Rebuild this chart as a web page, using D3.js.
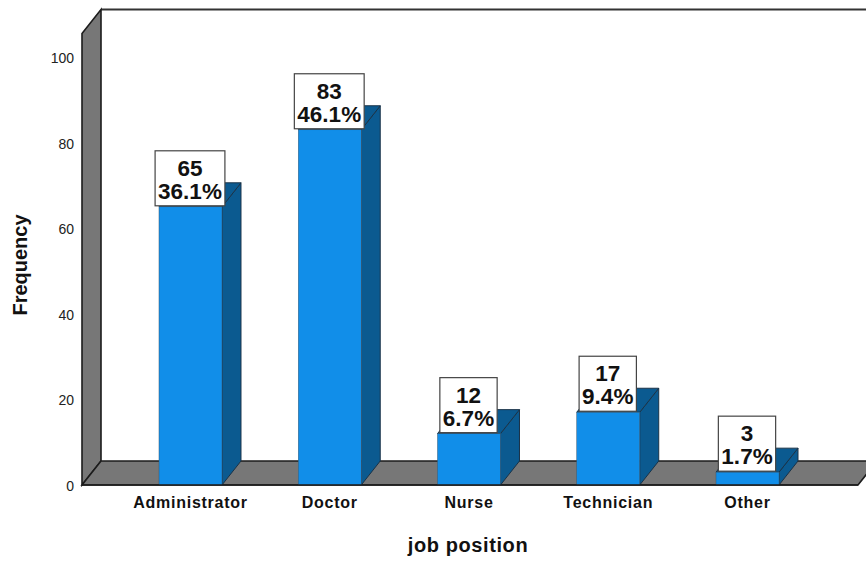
<!DOCTYPE html>
<html>
<head>
<meta charset="utf-8">
<script src="https://cdn.jsdelivr.net/npm/d3@7"></script>
<style>
  html, body { margin: 0; padding: 0; background: #fff; }
  svg { display: block; font-family: "Liberation Sans", Arial, sans-serif; }
  .axis text { fill: #222; font-size: 14px; }
  .x-axis text { font-weight: bold; font-size: 16px; letter-spacing: 0.75px; fill: #111; }
</style>
</head>
<body>
<svg id="chart"></svg>
<script>
const categories = ["Administrator", "Doctor", "Nurse", "Technician", "Other"];
const counts = [65, 83, 12, 17, 3];
const percents = ["36.1%", "46.1%", "6.7%", "9.4%", "1.7%"];
const yTicks = [0, 20, 40, 60, 80, 100];

const width = 866, height = 561;
const depthX = 19, depthY = 24; // fake 3d offset
const left = 82, right = 858, baseY = 485;

const svg = d3.select("#chart").attr("width", width).attr("height", height);

const xScale = d3.scaleBand()
  .domain(categories)
  .range([159, 779])
  .paddingInner(0.5476);

const yScale = d3.scaleLinear()
  .domain([0, 100])
  .range([baseY, 57]);

const wallTop = 33.5; // top of the left wall, above y = 100
const edge = "#1c1c1c";

// back wall top edge
svg.append("path")
  .attr("d", `M${left + depthX},${wallTop - depthY}H${width + 2}`)
  .attr("stroke", "#333").attr("stroke-width", 2).attr("fill", "none");

// left wall
svg.append("path")
  .attr("d", `M${left},${baseY}L${left},${wallTop}L${left + depthX},${wallTop - depthY}L${left + depthX},${baseY - depthY}Z`)
  .attr("fill", "#777").attr("stroke", edge).attr("stroke-width", 1.6);

// floor
svg.append("path")
  .attr("d", `M${left},${baseY}L${left + depthX},${baseY - depthY}L${right + depthX},${baseY - depthY}L${right},${baseY}Z`)
  .attr("fill", "#777").attr("stroke", edge).attr("stroke-width", 1.6);

// bars
const bars = svg.selectAll(".bar")
  .data(categories)
  .join("g")
  .attr("class", "bar");

// right side of each bar
bars.append("path")
  .attr("d", (d, i) => {
    const x = xScale(d) + xScale.bandwidth(), y = yScale(counts[i]);
    return `M${x},${baseY}L${x},${y}L${x + depthX},${y - depthY}L${x + depthX},${baseY - depthY}Z`;
  })
  .attr("fill", "#0b5a90").attr("stroke", "#1a3348").attr("stroke-width", 1);

// top of each bar
bars.append("path")
  .attr("d", (d, i) => {
    const x = xScale(d), w = xScale.bandwidth(), y = yScale(counts[i]);
    return `M${x},${y}L${x + depthX},${y - depthY}L${x + w + depthX},${y - depthY}L${x + w},${y}Z`;
  })
  .attr("fill", "#0b5a90").attr("stroke", "#1a3348").attr("stroke-width", 1);

// front of each bar
bars.append("rect")
  .attr("x", d => xScale(d))
  .attr("y", (d, i) => yScale(counts[i]))
  .attr("width", xScale.bandwidth())
  .attr("height", (d, i) => baseY - yScale(counts[i]))
  .attr("fill", "#118ee9").attr("stroke", "#3a5a72").attr("stroke-width", 0.5);

// baseline over the bars' feet
svg.append("line")
  .attr("x1", left).attr("x2", right)
  .attr("y1", baseY).attr("y2", baseY)
  .attr("stroke", edge).attr("stroke-width", 1.6);

// value labels
const labelFont = 22.5, lineGap = 23;
const labels = svg.selectAll(".value-label")
  .data(categories)
  .join("g")
  .attr("class", "value-label")
  .attr("transform", (d, i) =>
    `translate(${xScale(d) + xScale.bandwidth() / 2 - 0.5},${yScale(counts[i]) - 1})`);

const labelBox = labels.append("rect")
  .attr("fill", "#fff").attr("stroke", "#444").attr("stroke-width", 1.2);

labels.append("text")
  .attr("text-anchor", "middle")
  .attr("y", -30)
  .attr("font-size", labelFont).attr("font-weight", "bold").attr("fill", "#111")
  .text((d, i) => counts[i]);

labels.append("text")
  .attr("class", "pct")
  .attr("text-anchor", "middle")
  .attr("y", -30 + lineGap)
  .attr("font-size", labelFont).attr("font-weight", "bold").attr("fill", "#111")
  .text((d, i) => percents[i]);

labelBox.each(function () {
  const w = this.parentNode.querySelector(".pct").getComputedTextLength() + 6;
  d3.select(this).attr("x", -w / 2).attr("width", w).attr("y", -55).attr("height", 55);
});

// axes
svg.append("g")
  .attr("class", "axis y-axis")
  .attr("transform", `translate(${left},1)`)
  .call(d3.axisLeft(yScale).tickValues(yTicks).tickSize(0).tickPadding(8))
  .call(g => g.select(".domain").remove());

svg.append("g")
  .attr("class", "axis x-axis")
  .attr("transform", `translate(0,${baseY})`)
  .call(d3.axisBottom(xScale).tickSize(0).tickPadding(12))
  .call(g => g.select(".domain").remove());

// axis titles
svg.append("text")
  .attr("text-anchor", "middle")
  .attr("x", 468).attr("y", 552)
  .attr("font-size", 20).attr("font-weight", "bold").attr("letter-spacing", 0.6).attr("fill", "#111")
  .text("job position");

svg.append("text")
  .attr("text-anchor", "middle")
  .attr("transform", "translate(27,265) rotate(-90)")
  .attr("font-size", 20).attr("font-weight", "bold").attr("fill", "#111")
  .text("Frequency");
</script>
</body>
</html>
